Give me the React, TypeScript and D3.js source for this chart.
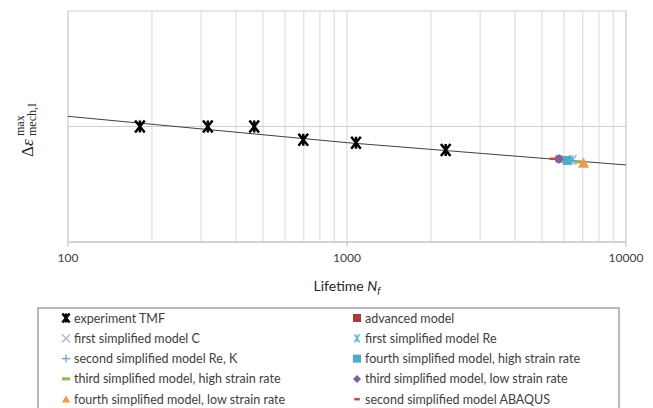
import React from "react";
import * as d3 from "d3";

// experiment TMF (lifetime, strain range relative to reference)
const experimentN = [181, 317, 465, 697, 1077, 2258];
const experimentStrain = [1.0, 1.0, 1.0, 0.886, 0.859, 0.797];

// simulated lifetimes
const advancedN = [5750];
const advancedStrain = [0.719];
const firstCN = [6150];
const firstCStrain = [0.708];
const firstReN = [6450];
const firstReStrain = [0.71];
const secondReKN = [6250];
const secondReKStrain = [0.707];
const fourthHighN = [6150];
const fourthHighStrain = [0.706];
const thirdHighN = [6790];
const thirdHighStrain = [0.693];
const thirdLowN = [5750];
const thirdLowStrain = [0.719];
const fourthLowN = [7040];
const fourthLowStrain = [0.684];
const abaqusN = [5460];
const abaqusStrain = [0.721];

// trend line through experiment
const trendN = [100, 1000, 10000];
const trendStrain = [1.088, 0.86, 0.667];

const xTickValues = [100, 1000, 10000];
const xTickLabels = ["100", "1000", "10000"];

type Kind = "star" | "x" | "plus" | "dash" | "triangle" | "square" | "asterisk" | "diamond" | "smalldash";

interface Series {
  name: string;
  kind: Kind;
  color: string;
  size: number;
  n: number[];
  s: number[];
}

// Excel legend order (row-major, two columns)
const series: Series[] = [
  { name: "experiment TMF", kind: "star", color: "#000000", size: 12, n: experimentN, s: experimentStrain },
  { name: "advanced model", kind: "square", color: "#b03a3a", size: 7, n: advancedN, s: advancedStrain },
  { name: "first simplified model C", kind: "x", color: "#a7a7d6", size: 8, n: firstCN, s: firstCStrain },
  { name: "first simplified model Re", kind: "asterisk", color: "#5cb8d0", size: 10, n: firstReN, s: firstReStrain },
  { name: "second simplified model Re, K", kind: "plus", color: "#6f98d2", size: 8, n: secondReKN, s: secondReKStrain },
  { name: "fourth simplified model, high strain rate", kind: "square", color: "#4bacc6", size: 9, n: fourthHighN, s: fourthHighStrain },
  { name: "third simplified model, high strain rate", kind: "dash", color: "#8fb84a", size: 8, n: thirdHighN, s: thirdHighStrain },
  { name: "third simplified model, low strain rate", kind: "diamond", color: "#7f5fa8", size: 10, n: thirdLowN, s: thirdLowStrain },
  { name: "fourth simplified model, low strain rate", kind: "triangle", color: "#f79646", size: 11, n: fourthLowN, s: fourthLowStrain },
  { name: "second simplified model ABAQUS", kind: "smalldash", color: "#e03c3c", size: 9, n: abaqusN, s: abaqusStrain },
];

const W = 653;
const H = 408;
const plot = { left: 68, right: 626, top: 11, bottom: 242 };

function Marker({ kind, color, size }: { kind: Kind; color: string; size: number }) {
  const r = size / 2;
  switch (kind) {
    case "star":
      return (
        <path
          d={`M${-r * 0.8},${-r}L${r * 0.8},${r}M${-r * 0.8},${r}L${r * 0.8},${-r}M0,${-r}L0,${r}`}
          stroke={color}
          strokeWidth={2.5}
          fill="none"
        />
      );
    case "x":
      return <path d={`M${-r},${-r}L${r},${r}M${-r},${r}L${r},${-r}`} stroke={color} strokeWidth={1.2} fill="none" />;
    case "plus":
      return <path d={`M${-r},0L${r},0M0,${-r}L0,${r}`} stroke={color} strokeWidth={1.2} fill="none" />;
    case "asterisk":
      return (
        <path
          d={`M${-r * 0.7},${-r}L${r * 0.7},${r}M${-r * 0.7},${r}L${r * 0.7},${-r}M0,${-r}L0,${r}`}
          stroke={color}
          strokeWidth={1.2}
          fill="none"
        />
      );
    case "dash":
      return <rect x={-r} y={-1.5} width={size} height={3} fill={color} />;
    case "smalldash":
      return <rect x={-r * 0.7} y={-1.2} width={size * 0.7} height={2.4} fill={color} />;
    case "square":
      return <rect x={-r} y={-r} width={size} height={size} fill={color} />;
    case "diamond":
      return <path d={`M0,${-r}L${r},0L0,${r}L${-r},0Z`} fill={color} />;
    case "triangle":
      return <path d={`M0,${-r}L${r},${r * 0.85}L${-r},${r * 0.85}Z`} fill={color} />;
  }
}

export default function App() {
  const x = d3.scaleLog().domain([100, 10000]).range([plot.left, plot.right]);
  const y = d3.scaleLinear().domain([0, 2]).range([plot.bottom, plot.top]);
  const gridX = x.ticks();
  const trend = d3
    .line<number>()
    .x((_, i) => x(trendN[i]))
    .y((d) => y(d));

  const legend = { left: 38, top: 308, right: 619, col2: 357, col1: 66, row0: 318, rowStep: 20.3 };

  return (
    <svg
      width={W}
      height={H}
      style={{ position: "absolute", left: 0, top: 0, background: "#fff" }}
      fontFamily="Lato, 'Open Sans', sans-serif"
    >
      {/* gridlines */}
      {gridX.map((t) => (
        <line key={t} x1={x(t)} x2={x(t)} y1={plot.top} y2={plot.bottom} stroke="#d9d9d9" strokeWidth={1} />
      ))}
      <line x1={plot.left} x2={plot.right} y1={y(1)} y2={y(1)} stroke="#cfcfcf" strokeWidth={1} />
      <rect
        x={plot.left}
        y={plot.top}
        width={plot.right - plot.left}
        height={plot.bottom - plot.top}
        fill="none"
        stroke="#d0d0d0"
        strokeWidth={1}
      />
      {/* x axis */}
      <line x1={plot.left} x2={plot.right} y1={plot.bottom} y2={plot.bottom} stroke="#bfbfbf" strokeWidth={1} />
      {xTickValues.map((t, i) => (
        <g key={t} transform={`translate(${x(t)},${plot.bottom})`}>
          <line y1={0} y2={5} stroke="#bfbfbf" />
          <text y={20} textAnchor="middle" fontSize={12} fill="#404040">
            {xTickLabels[i]}
          </text>
        </g>
      ))}
      <text x={(plot.left + plot.right) / 2} y={291} textAnchor="middle" fontSize={14} fill="#262626">
        Lifetime{" "}
        <tspan fontStyle="italic">N</tspan>
        <tspan fontStyle="italic" fontSize={10} dy={3}>
          f
        </tspan>
      </text>
      {/* y axis label */}
      <g transform="translate(33,157) rotate(-90)" fontFamily="'Liberation Serif', 'DejaVu Serif', serif" fill="#262626">
        <text x={0} y={0} fontSize={17}>
          Δ<tspan fontStyle="italic">ε</tspan>
        </text>
        <text x={21} y={-9} fontSize={12}>
          max
        </text>
        <text x={21} y={3} fontSize={12}>
          mech,I
        </text>
      </g>
      {/* trend line */}
      <path d={trend(trendStrain) ?? ""} fill="none" stroke="#404040" strokeWidth={1} />
      {/* markers */}
      {series.map((sr) =>
        sr.n.map((n, i) => (
          <g key={sr.name + i} transform={`translate(${x(n)},${y(sr.s[i])})`}>
            <Marker kind={sr.kind} color={sr.color} size={sr.size} />
          </g>
        ))
      )}
      {/* legend */}
      <rect
        x={legend.left}
        y={legend.top}
        width={legend.right - legend.left}
        height={H + 10 - legend.top}
        fill="#fff"
        stroke="#8c8c8c"
        strokeWidth={1.2}
      />
      {series.map((sr, i) => {
        const col = i % 2;
        const row = Math.floor(i / 2);
        const mx = col === 0 ? legend.col1 : legend.col2;
        const my = legend.row0 + row * legend.rowStep;
        return (
          <g key={sr.name} transform={`translate(${mx},${my})`}>
            <Marker kind={sr.kind} color={sr.color} size={sr.kind === "star" ? 9 : 8} />
            <text x={8} y={4.5} fontSize={12.5} fill="#404040">
              {sr.name}
            </text>
          </g>
        );
      })}
    </svg>
  );
}
